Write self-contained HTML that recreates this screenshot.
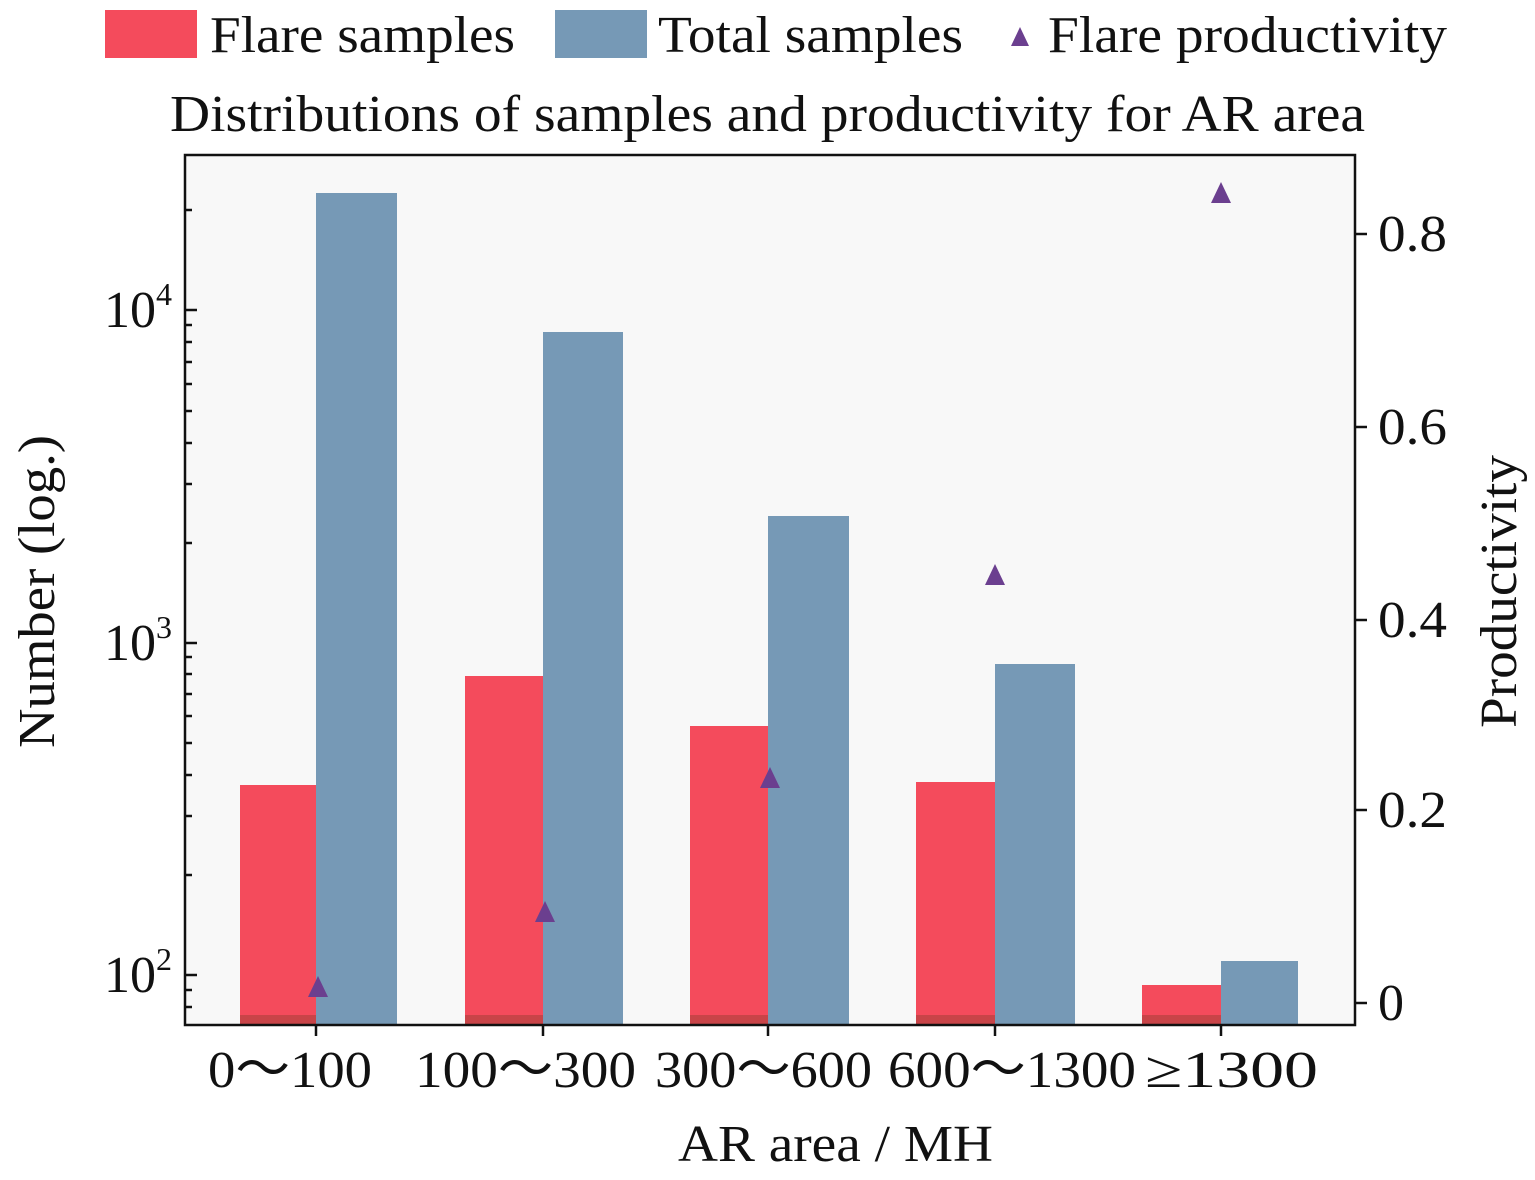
<!DOCTYPE html><html><head><style>body{margin:0;background:#fff}svg{display:block}text{font-family:"Liberation Serif",serif;fill:#111}</style></head><body>
<svg width="1535" height="1180" viewBox="0 0 1535 1180">
<rect x="185" y="155" width="1170" height="870" fill="#f8f8f8"/>
<g fill="#f44b5c">
<rect x="240" y="785" width="76" height="240"/><rect x="465" y="676" width="78" height="349"/><rect x="690" y="726" width="78" height="299"/><rect x="916" y="782" width="79" height="243"/><rect x="1142" y="985" width="79" height="40"/></g>
<g fill="#c84448"><rect x="240" y="1015" width="76" height="10"/><rect x="465" y="1015" width="78" height="10"/><rect x="690" y="1015" width="78" height="10"/><rect x="916" y="1015" width="79" height="10"/><rect x="1142" y="1015" width="79" height="10"/></g>
<g fill="#7699b6">
<rect x="316" y="193" width="81" height="832"/><rect x="543" y="332" width="80" height="693"/><rect x="768" y="516" width="81" height="509"/><rect x="995" y="664" width="80" height="361"/><rect x="1221" y="961" width="77" height="64"/></g>
<g fill="#6b3f8f">
<polygon points="318,976 308,997 328,997"/><polygon points="545,901 535,922 555,922"/><polygon points="770,767 760,788 780,788"/><polygon points="995,564 985,585 1005,585"/><polygon points="1221,182 1211,203 1231,203"/></g>
<rect x="185" y="155" width="1170" height="870" fill="none" stroke="#111" stroke-width="2.5"/>
<g stroke="#111" stroke-width="2.5">
<line x1="185" y1="975" x2="197" y2="975"/><line x1="185" y1="643" x2="197" y2="643"/><line x1="185" y1="310" x2="197" y2="310"/>
<line x1="185" y1="990" x2="192" y2="990"/><line x1="185" y1="1007" x2="192" y2="1007"/>
<line x1="185" y1="875" x2="192" y2="875"/><line x1="185" y1="816" x2="192" y2="816"/><line x1="185" y1="775" x2="192" y2="775"/><line x1="185" y1="743" x2="192" y2="743"/><line x1="185" y1="716" x2="192" y2="716"/><line x1="185" y1="694" x2="192" y2="694"/><line x1="185" y1="674" x2="192" y2="674"/><line x1="185" y1="657" x2="192" y2="657"/>
<line x1="185" y1="543" x2="192" y2="543"/><line x1="185" y1="484" x2="192" y2="484"/><line x1="185" y1="443" x2="192" y2="443"/><line x1="185" y1="411" x2="192" y2="411"/><line x1="185" y1="384" x2="192" y2="384"/><line x1="185" y1="362" x2="192" y2="362"/><line x1="185" y1="342" x2="192" y2="342"/><line x1="185" y1="325" x2="192" y2="325"/>
<line x1="185" y1="210" x2="192" y2="210"/>
<line x1="1355" y1="1003" x2="1367" y2="1003"/><line x1="1355" y1="810" x2="1367" y2="810"/><line x1="1355" y1="620" x2="1367" y2="620"/><line x1="1355" y1="427" x2="1367" y2="427"/><line x1="1355" y1="234" x2="1367" y2="234"/>
<line x1="316" y1="1025" x2="316" y2="1036"/><line x1="543" y1="1025" x2="543" y2="1036"/><line x1="768" y1="1025" x2="768" y2="1036"/><line x1="995" y1="1025" x2="995" y2="1036"/><line x1="1221" y1="1025" x2="1221" y2="1036"/>
</g>
<g font-size="52" text-anchor="end">
<text x="172" y="992">10<tspan dy="-22" font-size="32">2</tspan></text>
<text x="172" y="660">10<tspan dy="-22" font-size="32">3</tspan></text>
<text x="172" y="327">10<tspan dy="-22" font-size="32">4</tspan></text></g>
<g font-size="52" lengthAdjust="spacingAndGlyphs">
<text x="1378" y="1020">0</text>
<text x="1378" y="827" textLength="69" lengthAdjust="spacingAndGlyphs">0.2</text><text x="1378" y="637" textLength="69" lengthAdjust="spacingAndGlyphs">0.4</text><text x="1378" y="444" textLength="69" lengthAdjust="spacingAndGlyphs">0.6</text><text x="1378" y="251" textLength="69" lengthAdjust="spacingAndGlyphs">0.8</text></g>
<g font-size="52">
<text x="208" y="1087" textLength="164" lengthAdjust="spacingAndGlyphs">0～100</text>
<text x="415" y="1087" textLength="221" lengthAdjust="spacingAndGlyphs">100～300</text>
<text x="655" y="1087" textLength="217" lengthAdjust="spacingAndGlyphs">300～600</text>
<text x="888" y="1087" textLength="248" lengthAdjust="spacingAndGlyphs">600～1300</text>
<text x="1145" y="1087" textLength="173" lengthAdjust="spacingAndGlyphs">≥1300</text>
<text x="678" y="1161" textLength="315" lengthAdjust="spacingAndGlyphs">AR area / MH</text>
<text x="170" y="131" textLength="1195" lengthAdjust="spacingAndGlyphs">Distributions of samples and productivity for AR area</text></g>
<text font-size="52" transform="translate(54,748) rotate(-90)" textLength="313" lengthAdjust="spacingAndGlyphs">Number (log.)</text>
<text font-size="52" transform="translate(1516,728) rotate(-90)" textLength="273" lengthAdjust="spacingAndGlyphs">Productivity</text>
<rect x="105" y="10" width="92" height="48" fill="#f44b5c"/>
<text x="210" y="52" font-size="52" textLength="305" lengthAdjust="spacingAndGlyphs">Flare samples</text>
<rect x="555" y="10" width="92" height="48" fill="#7699b6"/>
<text x="658" y="52" font-size="52" textLength="305" lengthAdjust="spacingAndGlyphs">Total samples</text>
<polygon points="1020,27 1011,46 1029,46" fill="#6b3f8f"/>
<text x="1048" y="52" font-size="52" textLength="399" lengthAdjust="spacingAndGlyphs">Flare productivity</text>
</svg></body></html>
